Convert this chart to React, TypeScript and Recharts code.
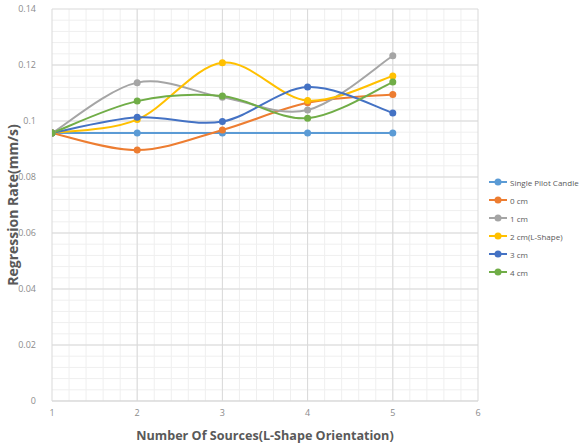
import React from "react";
import { LineChart, Line, XAxis, YAxis, CartesianGrid, Label } from "recharts";

const categories = [1, 2, 3, 4, 5];
const seriesNames = ["Single Pilot Candle", "0 cm", "1 cm", "2 cm(L-Shape)", "3 cm", "4 cm"];
const singlePilot = [0.0957, 0.0957, 0.0957, 0.0957, 0.0957];
const cm0 = [0.0957, 0.0896, 0.0968, 0.1065, 0.1095];
const cm1 = [0.0957, 0.1137, 0.1085, 0.1039, 0.1233];
const cm2 = [0.0957, 0.1005, 0.1208, 0.1073, 0.1161];
const cm3 = [0.0957, 0.1013, 0.0998, 0.1121, 0.1029];
const cm4 = [0.0957, 0.1071, 0.1089, 0.101, 0.1139];
const xTicks = [1, 2, 3, 4, 5, 6];
const yTicks = [0, 0.02, 0.04, 0.06, 0.08, 0.1, 0.12, 0.14];
const xMinorStep = 0.2;
const yMinorStep = 0.004;
const xMin = 1;
const xMax = 6;
const yMax = 0.14;

const colors = ["#5B9BD5", "#ED7D31", "#A5A5A5", "#FFC000", "#4472C4", "#70AD47"];
const seriesValues = [singlePilot, cm0, cm1, cm2, cm3, cm4];
const keys = ["s0", "s1", "s2", "s3", "s4", "s5"];

const data = categories.map((x, i) => {
  const row: any = { x };
  keys.forEach((k, j) => (row[k] = seriesValues[j][i]));
  return row;
});

const yMinor: number[] = [];
for (let v = yMinorStep; v < yMax - 1e-9; v += yMinorStep) yMinor.push(v);
const xMinor: number[] = [];
for (let v = xMin + xMinorStep; v < xMax - 1e-9; v += xMinorStep) xMinor.push(v);

// Excel-like smoothed line (Catmull-Rom as cubic Bezier)
function excelCurve(context: any) {
  let pts: number[][] = [];
  return {
    areaStart() {},
    areaEnd() {},
    lineStart() {
      pts = [];
    },
    point(x: number, y: number) {
      pts.push([+x, +y]);
    },
    lineEnd() {
      if (!pts.length) return;
      context.moveTo(pts[0][0], pts[0][1]);
      for (let i = 0; i < pts.length - 1; i++) {
        const p0 = pts[i - 1] || pts[i];
        const p1 = pts[i];
        const p2 = pts[i + 1];
        const p3 = pts[i + 2] || p2;
        context.bezierCurveTo(
          p1[0] + (p2[0] - p0[0]) / 6,
          p1[1] + (p2[1] - p0[1]) / 6,
          p2[0] - (p3[0] - p1[0]) / 6,
          p2[1] - (p3[1] - p1[1]) / 6,
          p2[0],
          p2[1]
        );
      }
    },
  };
}

const FONT = "'Open Sans', 'DejaVu Sans', sans-serif";

export default function App() {
  return (
    <div style={{ position: "absolute", left: 0, top: 0, width: 581, height: 446, background: "#fff", overflow: "hidden" }}>
      <LineChart width={581} height={446} data={data} margin={{ top: 9, right: 103, bottom: 0, left: 0 }}>
        <CartesianGrid
          stroke="#efefef"
          strokeWidth={1}
          horizontalCoordinatesGenerator={({ offset }: any) =>
            yMinor.map((v) => offset.top + offset.height * (1 - v / yMax))
          }
          verticalCoordinatesGenerator={({ offset }: any) =>
            xMinor.map((v) => offset.left + (offset.width * (v - xMin)) / (xMax - xMin))
          }
        />
        <CartesianGrid stroke="#d9d9d9" strokeWidth={1} />
        <XAxis
          dataKey="x"
          type="number"
          domain={[xMin, xMax]}
          ticks={xTicks}
          allowDataOverflow
          height={45}
          tickLine={false}
          tickSize={0}
          tickMargin={9}
          axisLine={{ stroke: "#d9d9d9" }}
          tick={{ fill: "#8c8c8c", fontSize: 9, fontFamily: FONT }}
        >
          <Label
            value="Number Of Sources(L-Shape Orientation)"
            position="insideBottom"
            offset={6}
            style={{ fill: "#595959", fontSize: 12.6, fontWeight: 700, fontFamily: FONT }}
          />
        </XAxis>
        <YAxis
          type="number"
          domain={[0, yMax]}
          ticks={yTicks}
          allowDataOverflow
          width={52}
          tickLine={false}
          tickSize={0}
          tickMargin={16}
          axisLine={false}
          tickFormatter={(v: number) => String(v)}
          tick={{ fill: "#8c8c8c", fontSize: 9, fontFamily: FONT }}
        >
          <Label
            value="Regression Rate(mm/s)"
            angle={-90}
            position="insideLeft"
            offset={13}
            style={{ textAnchor: "middle", fill: "#595959", fontSize: 14, fontWeight: 700, fontFamily: FONT }}
          />
        </YAxis>
        {keys.map((k, j) => (
          <Line
            key={k}
            dataKey={k}
            name={seriesNames[j]}
            type={excelCurve as any}
            stroke={colors[j]}
            strokeWidth={2}
            dot={{ r: 3.5, fill: colors[j], stroke: colors[j], strokeWidth: 0 }}
            activeDot={false}
            isAnimationActive={false}
          />
        ))}
      </LineChart>
      <div
        style={{
          position: "absolute",
          left: 489,
          top: 173,
          fontFamily: FONT,
          fontSize: 8,
          color: "#595959",
          whiteSpace: "nowrap",
        }}
      >
        {seriesNames.map((n, j) => (
          <div key={n} style={{ display: "flex", alignItems: "center", height: 18 }}>
            <svg width={19} height={10} style={{ marginRight: 2, flexShrink: 0 }}>
              <line x1={0} y1={5} x2={18} y2={5} stroke={colors[j]} strokeWidth={2} />
              <circle cx={9} cy={5} r={3.5} fill={colors[j]} />
            </svg>
            <span>{n}</span>
          </div>
        ))}
      </div>
    </div>
  );
}
